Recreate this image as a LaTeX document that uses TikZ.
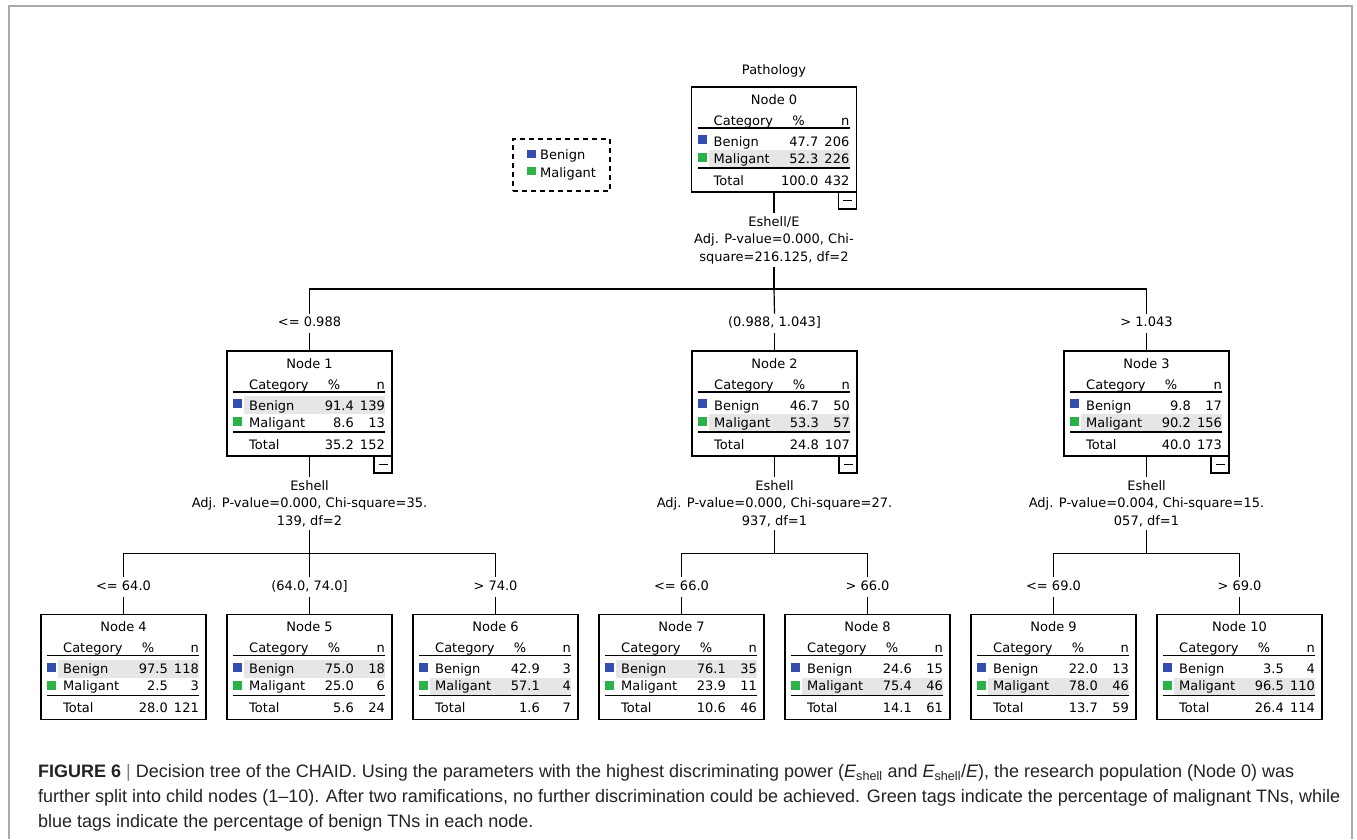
\documentclass[tikz,border=0pt]{standalone}
\usepackage{fontspec}
\setmainfont{Liberation Sans}
\newfontfamily\treefont{DejaVu Sans}
\usetikzlibrary{positioning}

\definecolor{benign}{RGB}{52,78,176}
\definecolor{malig}{RGB}{44,178,72}
\definecolor{rowhl}{RGB}{230,230,230}
\definecolor{framegray}{RGB}{170,170,170}
\definecolor{captext}{RGB}{35,35,35}

\newcommand{\treetext}{\treefont\fontsize{13}{17.5}\selectfont}
\newcommand{\keysq}[1]{\textcolor{#1}{\rule[2pt]{9pt}{8pt}}}

% one CHAID node: name, placement, number, benign % / n, maligant % / n, total % / n
\newcommand{\catbox}[9]{%
  \node[catbox, #2] (#1) {};
  \pgfmathtruncatemacro{\hlrow}{(#4>#6) ? 0 : 1}
  \begin{scope}[shift={(#1.north west)}]
    \fill[rowhl] (17,{45+18*\hlrow}) rectangle (158,{63+17*\hlrow});
    \node[cell, anchor=base] at (82.5,17) {Node #3};
    \node[cell, anchor=base west] at (22,38) {Category};
    \node[cell, anchor=base] at (107,38) {\%};
    \node[cell, anchor=base east] at (158,38) {n};
    \draw[rule] (6,41) -- (158,41);
    \fill[benign] (6,48) rectangle (15,57);
    \node[cell, anchor=base west] at (22,59) {Benign};
    \node[cell, anchor=base east] at (127,59) {#4};
    \node[cell, anchor=base east] at (158,59) {#5};
    \fill[malig] (6,66) rectangle (15,75);
    \node[cell, anchor=base west] at (22,76) {Maligant};
    \node[cell, anchor=base east] at (127,76) {#6};
    \node[cell, anchor=base east] at (158,76) {#7};
    \draw[rule] (6,81) -- (158,81);
    \node[cell, anchor=base west] at (22,98) {Total};
    \node[cell, anchor=base east] at (127,98) {#8};
    \node[cell, anchor=base east] at (158,98) {#9};
  \end{scope}
}

\begin{document}
\begin{tikzpicture}[x=1pt, y=-1pt, node distance={21pt},
  catbox/.style = {draw, line width=1.3pt, minimum width=165pt, minimum height=105pt, inner sep=0, outer sep=0},
  cell/.style = {font=\treetext, inner sep=0},
  rule/.style = {line width=1.6pt},
  minus/.style = {draw, line width=1.2pt, minimum width=18pt, minimum height=17pt, inner sep=0, outer sep=0},
  branch/.style = {font=\treetext, inner sep=3pt, text height=10pt, text depth=3pt},
  split/.style = {font=\treetext, align=center, inner sep=3pt},
  link/.style = {line width=1.2pt},
  keybox/.style = {draw, dash pattern=on 5pt off 4pt, line width=1.2pt, minimum width=97pt, minimum height=52pt, align=left, font=\treetext},
  caption/.style = {font=\fontsize{18}{25}\selectfont, align=left, inner sep=0, text=captext}]
\useasboundingbox (0,0) rectangle (1357,839);
\fill[white] (0,0) rectangle (1357,839);
\draw[framegray, line width=1.2pt] (9,839) |- (1352,6) -- (1352,839);

\node[cell, anchor=base] (root) at (774,74) {Pathology};
\node[keybox] (key) at (561.5,165) {\keysq{benign} Benign\\\keysq{malig} Maligant};

\catbox{n0}{at={(774,139.5)}}{0}{47.7}{206}{52.3}{226}{100.0}{432}
\catbox{n1}{at={(309.5,403.5)}}{1}{91.4}{139}{8.6}{13}{35.2}{152}
\catbox{n2}{at={(774.5,403.5)}}{2}{46.7}{50}{53.3}{57}{24.8}{107}
\catbox{n3}{at={(1146.5,403.5)}}{3}{9.8}{17}{90.2}{156}{40.0}{173}
\catbox{n4}{at={(123.5,667)}}{4}{97.5}{118}{2.5}{3}{28.0}{121}
\catbox{n5}{right=of n4}{5}{75.0}{18}{25.0}{6}{5.6}{24}
\catbox{n6}{right=of n5}{6}{42.9}{3}{57.1}{4}{1.6}{7}
\catbox{n7}{right=of n6}{7}{76.1}{35}{23.9}{11}{10.6}{46}
\catbox{n8}{right=of n7}{8}{24.6}{15}{75.4}{46}{14.1}{61}
\catbox{n9}{right=of n8}{9}{22.0}{13}{78.0}{46}{13.7}{59}
\catbox{n10}{right=of n9}{10}{3.5}{4}{96.5}{110}{26.4}{114}

\node[minus, anchor=north east] (m0) at (n0.south east) {\rule{9pt}{1.2pt}};
\node[minus, anchor=north east] (m1) at (n1.south east) {\rule{9pt}{1.2pt}};
\node[minus, anchor=north east] (m2) at (n2.south east) {\rule{9pt}{1.2pt}};
\node[minus, anchor=north east] (m3) at (n3.south east) {\rule{9pt}{1.2pt}};

\node[split, below=21pt of n0] (s0) {Eshell/E\\Adj. P-value=0.000, Chi-\\square=216.125, df=2};
\node[split, below=21pt of n1] (s1) {Eshell\\Adj. P-value=0.000, Chi-square=35.\\139, df=2};
\node[split, below=21pt of n2] (s2) {Eshell\\Adj. P-value=0.000, Chi-square=27.\\937, df=1};
\node[split, below=21pt of n3] (s3) {Eshell\\Adj. P-value=0.004, Chi-square=15.\\057, df=1};
\coordinate[below=22pt of s0] (h0);
\coordinate[below=24pt of s1] (h1);
\coordinate[below=24pt of s2] (h2);
\coordinate[below=24pt of s3] (h3);

\node[branch, above=18pt of n1] (b1) {<= 0.988};
\node[branch, above=18pt of n2] (b2) {(0.988, 1.043]};
\node[branch, above=18pt of n3] (b3) {> 1.043};
\node[branch, above=18pt of n4] (b4) {<= 64.0};
\node[branch, above=18pt of n5] (b5) {(64.0, 74.0]};
\node[branch, above=18pt of n6] (b6) {> 74.0};
\node[branch, above=18pt of n7] (b7) {<= 66.0};
\node[branch, above=18pt of n8] (b8) {> 66.0};
\node[branch, above=18pt of n9] (b9) {<= 69.0};
\node[branch, above=18pt of n10] (b10) {> 69.0};

\draw[link] (n0.south) -- (s0.north);
\draw[link] (s0.south) -- (h0);
\draw[link] (b1.north) |- (h0) -| (b3.north);
\draw[link] (h0) -- (b2.north);
\draw[link] (b1.south) -- (n1.north);
\draw[link] (b2.south) -- (n2.north);
\draw[link] (b3.south) -- (n3.north);

\draw[link] (n1.south) -- (s1.north);
\draw[link] (s1.south) -- (h1);
\draw[link] (b4.north) |- (h1) -| (b6.north);
\draw[link] (h1) -- (b5.north);
\draw[link] (b4.south) -- (n4.north);
\draw[link] (b5.south) -- (n5.north);
\draw[link] (b6.south) -- (n6.north);

\draw[link] (n2.south) -- (s2.north);
\draw[link] (s2.south) -- (h2);
\draw[link] (b7.north) |- (h2) -| (b8.north);
\draw[link] (b7.south) -- (n7.north);
\draw[link] (b8.south) -- (n8.north);

\draw[link] (n3.south) -- (s3.north);
\draw[link] (s3.south) -- (h3);
\draw[link] (b9.north) |- (h3) -| (b10.north);
\draw[link] (b9.south) -- (n9.north);
\draw[link] (b10.south) -- (n10.north);

\node[caption, anchor=base west] (cap) at (38,827) {\textbf{FIGURE 6} {\color{gray}|} Decision tree of the CHAID. Using the parameters with the highest discriminating power ({\itshape E}\textsubscript{shell} and {\itshape E}\textsubscript{shell}/{\itshape E}), the research population (Node 0) was\\further split into child nodes (1--10). After two ramifications, no further discrimination could be achieved. Green tags indicate the percentage of malignant TNs, while\\blue tags indicate the percentage of benign TNs in each node.};
\end{tikzpicture}
\end{document}
